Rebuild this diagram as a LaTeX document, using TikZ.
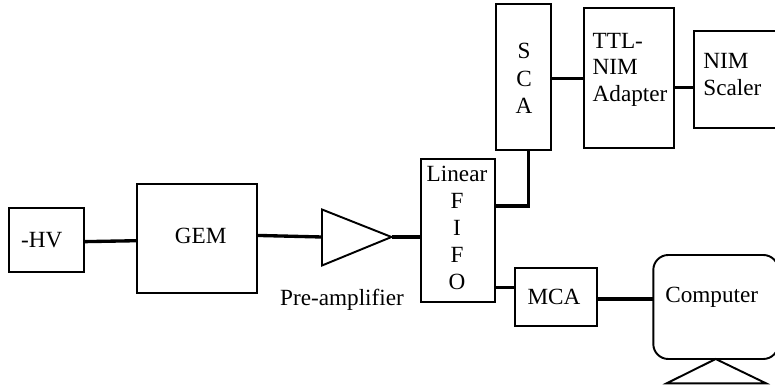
\documentclass[tikz,border=0pt]{standalone}
\usepackage{fontspec}
\setmainfont{Liberation Serif}
\tikzset{
    box/.style={draw,black,line width=1.1pt,outer sep=0pt,inner sep=0pt},
    wire/.style={black,line width=1.9pt},
    txt/.style={anchor=base,inner sep=0pt,font=\fontsize{13.2}{15}\selectfont},
    txtl/.style={txt,anchor=base west}
}
\begin{document}
\begin{tikzpicture}
    \useasboundingbox (0,0) rectangle (15.5,7.74);

    \node[box,minimum width=1.49cm,minimum height=1.28cm] (hv) at (0.934,2.946) {};
    \node[box,minimum width=2.41cm,minimum height=2.174cm] (gem) at (3.944,2.968) {};
    \node[box,minimum width=1.474cm,minimum height=2.86cm] (fifo) at (9.157,3.124) {};
    \node[box,minimum width=1.094cm,minimum height=2.92cm] (sca) at (10.467,6.2) {};
    \node[box,minimum width=1.806cm,minimum height=2.8cm] (adapter) at (12.577,6.186) {};
    \node[box,minimum width=1.7cm,minimum height=1.934cm] (scaler) at (14.724,6.147) {};
    \node[box,minimum width=1.628cm,minimum height=1.148cm] (mca) at (11.12,1.8) {};
    \node[box,rounded corners=0.3cm,minimum width=2.5cm,minimum height=2.08cm] (computer) at (14.316,1.6) {};

    % amplifier
    \coordinate (ampin) at (6.44,3.0);
    \coordinate (ampout) at (7.83,3.0);
    \draw[box] (6.44,3.55) -- (ampout) -- (6.44,2.43) -- cycle;

    % stand of the computer
    \coordinate (standtop) at (14.314,0.56);
    \draw[box,line join=miter] (standtop) -- (15.32,0.074) -- (13.334,0.074) -- cycle;

    \draw[wire] (hv.-3) -- (gem.182);
    \draw[wire] (gem.3) -- (ampin);
    \draw[wire] (ampout) -- (fifo.west |- ampout);
    \draw[wire] (fifo.east |- 0,3.62) -- (10.566,3.62) -- (10.566,0 |- sca.south);
    \draw[wire] (sca.east |- 0,6.17) -- (adapter.west |- 0,6.17);
    \draw[wire] (adapter.east |- 0,5.99) -- (scaler.west |- 0,5.99);
    \draw[wire] (fifo.east |- 0,1.99) -- (mca.west |- 0,1.99);
    \draw[wire] (mca.east |- 0,1.76) -- (computer.west |- 0,1.76);

    \node[txt] (hvtext) at (0.834,2.786) {-HV};
    \node[txt] (gemtext) at (4.014,2.874) {GEM};
    \node[txt] (amptext) at (6.84,1.62) {Pre-amplifier};
    \node[txt] (fifotext1) at (9.14,4.106) {Linear};
    \node[txt] (fifotext2) at (9.14,3.574) {F};
    \node[txt] (fifotext3) at (9.14,3.026) {I};
    \node[txt] (fifotext4) at (9.14,2.486) {F};
    \node[txt] (fifotext5) at (9.14,1.94) {O};
    \node[txt] (scatext1) at (10.48,6.56) {S};
    \node[txt] (scatext2) at (10.48,6.006) {C};
    \node[txt] (scatext3) at (10.48,5.474) {A};
    \node[txtl] (adaptertext1) at (11.846,6.774) {TTL-};
    \node[txtl] (adaptertext2) at (11.846,6.24) {NIM};
    \node[txtl] (adaptertext3) at (11.846,5.706) {Adapter};
    \node[txtl] (scalertext1) at (14.06,6.374) {NIM};
    \node[txtl] (scalertext2) at (14.06,5.826) {Scaler};
    \node[txt] (mcatext) at (11.08,1.64) {MCA};
    \node[txt] (computertext) at (14.234,1.68) {Computer};
\end{tikzpicture}
\end{document}
